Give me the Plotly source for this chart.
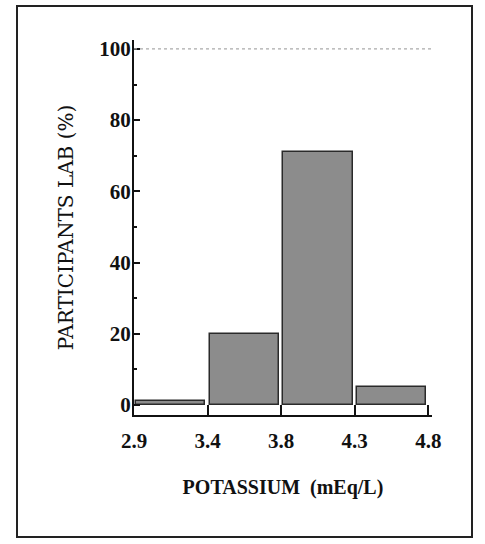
import plotly.graph_objects as go

bin_edges = ["2.9", "3.4", "3.8", "4.3", "4.8"]
bin_values = [1, 20, 71, 5]

x_centers = [i + 0.5 for i in range(len(bin_values))]

fig = go.Figure()
fig.add_trace(go.Bar(
    x=x_centers, y=bin_values, width=0.94,
    marker=dict(color="#8c8c8c", line=dict(color="#2a2a2a", width=1.5)),
    showlegend=False, hoverinfo="skip",
))

W, H = 485, 544
ml, mr, mt, mb = 134, 53, 40, 129
pw, ph = W - ml - mr, H - mt - mb

def px(x):
    return (x - ml) / pw

def py(y):
    return (H - mb - y) / ph

fig.update_layout(
    width=W, height=H,
    margin=dict(l=ml, r=mr, t=mt, b=mb, autoexpand=False),
    paper_bgcolor="white", plot_bgcolor="white",
    font=dict(family="Liberation Serif", color="#111"),
    bargap=0,
    xaxis=dict(
        range=[0, 4.05], tickmode="array",
        tickvals=list(range(len(bin_edges))), ticktext=bin_edges,
        ticks="inside", ticklen=10, tickwidth=1.5, tickcolor="#111",
        showline=True, linecolor="#111", linewidth=2,
        showgrid=False, zeroline=False, ticklabelstandoff=6,
        tickfont=dict(size=21, family="Liberation Serif", color="#111", weight="bold"),
        title=dict(text="POTASSIUM  (mEq/L)", font=dict(size=20, family="Liberation Serif", color="#111", weight="bold"), standoff=28),
    ),
    yaxis=dict(
        range=[-2.8, 102.5], tickmode="array", tickvals=[0, 20, 40, 60, 80, 100],
        ticks="inside", ticklen=6, tickwidth=1.5, tickcolor="#111",
        minor=dict(tickvals=[10, 30, 50, 70, 90], ticks="inside", ticklen=3, tickcolor="#111"),
        showline=True, linecolor="#111", linewidth=2,
        showgrid=False, zeroline=False, ticklabelstandoff=-3,
        tickfont=dict(size=21, family="Liberation Serif", color="#111", weight="bold"),
        title=dict(text="PARTICIPANTS LAB (%)", font=dict(size=20, family="DejaVu Serif", color="#111"), standoff=20),
    ),
    shapes=[
        dict(type="line", xref="x", yref="y", x0=0, x1=4.05, y0=100, y1=100,
             line=dict(color="#aaaaaa", width=1.2, dash="dot")),
        dict(type="rect", xref="paper", yref="paper",
             x0=px(17), x1=px(472), y0=py(537), y1=py(6),
             line=dict(color="#222", width=2), fillcolor="rgba(0,0,0,0)", layer="below"),
    ],
)

fig.write_html("out.html", config={"displayModeBar": False},
               post_script="document.body.style.margin='0';document.body.style.padding='0';")
